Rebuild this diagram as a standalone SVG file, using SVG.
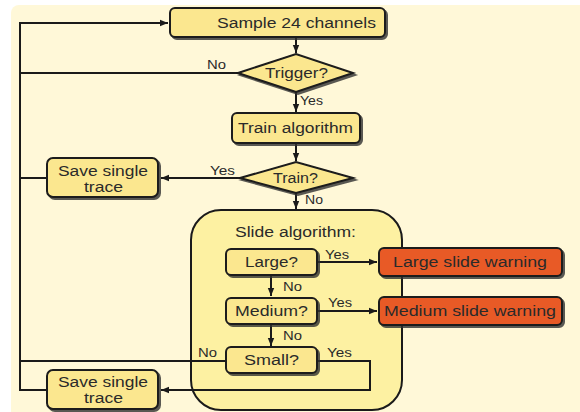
<svg xmlns="http://www.w3.org/2000/svg" width="580" height="412" viewBox="0 0 580 412">
<defs>
<style>
.box{fill:#fbe78f;stroke:#1a1a1a;stroke-width:2;filter:url(#sh)}
.warn{fill:#e85a26;stroke:#1a1a1a;stroke-width:2;filter:url(#sh)}
.cont{fill:#fdf1a2;stroke:#1a1a1a;stroke-width:2}
.t{font-family:"Liberation Sans",Arial,sans-serif;font-size:14px;fill:#2a2a2a}
.l{font-family:"Liberation Sans",Arial,sans-serif;font-size:12.5px;fill:#2a2a2a}
.c{fill:none;stroke:#1a1a1a;stroke-width:2}
</style>
<filter id="sh" x="-10%" y="-20%" width="130%" height="150%">
<feDropShadow dx="2" dy="2" stdDeviation="0.6" flood-color="#333" flood-opacity="0.8"/>
</filter>
<marker id="ar" viewBox="0 0 10 10" refX="10" refY="5" markerWidth="4" markerHeight="4" orient="auto" markerUnits="strokeWidth">
<path d="M0,1 L10,5 L0,9 z" fill="#1a1a1a"/>
</marker>
</defs>
<rect x="11" y="5" width="600" height="430" rx="8" fill="#fff8d8"/>
<g id="slide-container">
<rect class="cont" x="191" y="210" width="211" height="200" rx="30"/>
<text class="t" x="235" y="237" textLength="121" lengthAdjust="spacingAndGlyphs">Slide algorithm:</text>
</g>
<g id="connectors">
<path class="c" d="M296,37 V53" marker-end="url(#ar)"/>
<path class="c" d="M296,92 V112" marker-end="url(#ar)"/>
<path class="c" d="M296,143 V161" marker-end="url(#ar)"/>
<path class="c" d="M296,193 V209" marker-end="url(#ar)"/>
<path class="c" d="M238,73 H20 V23 H168" marker-end="url(#ar)"/>
<path class="c" d="M240,178 H161" marker-end="url(#ar)"/>
<path class="c" d="M47,178 H20"/>
<path class="c" d="M20,73 V390 H47"/>
<path class="c" d="M317,262 H377" marker-end="url(#ar)"/>
<path class="c" d="M317,311 H377" marker-end="url(#ar)"/>
<path class="c" d="M271,275 V296" marker-end="url(#ar)"/>
<path class="c" d="M271,324 V346" marker-end="url(#ar)"/>
<path class="c" d="M226,361 H20"/>
<path class="c" d="M317,361 H370 V390 H161" marker-end="url(#ar)"/>
<text class="l" x="207" y="69" textLength="19" lengthAdjust="spacingAndGlyphs">No</text>
<text class="l" x="300" y="105" textLength="23" lengthAdjust="spacingAndGlyphs">Yes</text>
<text class="l" x="210" y="175" textLength="25" lengthAdjust="spacingAndGlyphs">Yes</text>
<text class="l" x="305" y="204" textLength="18" lengthAdjust="spacingAndGlyphs">No</text>
<text class="l" x="325" y="259" textLength="24" lengthAdjust="spacingAndGlyphs">Yes</text>
<text class="l" x="283" y="291" textLength="19" lengthAdjust="spacingAndGlyphs">No</text>
<text class="l" x="328" y="307" textLength="24" lengthAdjust="spacingAndGlyphs">Yes</text>
<text class="l" x="283" y="340" textLength="19" lengthAdjust="spacingAndGlyphs">No</text>
<text class="l" x="198" y="357" textLength="19" lengthAdjust="spacingAndGlyphs">No</text>
<text class="l" x="327" y="357" textLength="25" lengthAdjust="spacingAndGlyphs">Yes</text>
</g>
<g id="sample">
<rect class="box" x="170" y="8" width="215" height="29" rx="5"/>
<text class="t" x="217" y="28" textLength="159" lengthAdjust="spacingAndGlyphs">Sample 24 channels</text>
</g>
<g id="trigger">
<polygon class="box" points="238,73 296,54 353,73 296,92"/>
<text class="t" x="265" y="78" textLength="63" lengthAdjust="spacingAndGlyphs">Trigger?</text>
</g>
<g id="train-algorithm">
<rect class="box" x="232" y="113" width="128" height="30" rx="5"/>
<text class="t" x="238" y="133" textLength="115" lengthAdjust="spacingAndGlyphs">Train algorithm</text>
</g>
<g id="train">
<polygon class="box" points="240,178 296,162 353,178 296,193"/>
<text class="t" x="273" y="183" textLength="45" lengthAdjust="spacingAndGlyphs">Train?</text>
</g>
<g id="save1">
<rect class="box" x="47" y="158" width="111" height="39" rx="6"/>
<text class="t" x="58" y="176" textLength="90" lengthAdjust="spacingAndGlyphs">Save single</text>
<text class="t" x="84" y="192" textLength="39" lengthAdjust="spacingAndGlyphs">trace</text>
</g>
<g id="large">
<rect class="box" x="226" y="249" width="91" height="26" rx="5"/>
<text class="t" x="245" y="267" textLength="53" lengthAdjust="spacingAndGlyphs">Large?</text>
</g>
<g id="large-warning">
<rect class="warn" x="379" y="248" width="183" height="28" rx="5"/>
<text class="t" x="393" y="267" textLength="154" lengthAdjust="spacingAndGlyphs">Large slide warning</text>
</g>
<g id="medium">
<rect class="box" x="226" y="298" width="91" height="26" rx="5"/>
<text class="t" x="235" y="316" textLength="73" lengthAdjust="spacingAndGlyphs">Medium?</text>
</g>
<g id="medium-warning">
<rect class="warn" x="379" y="297" width="183" height="28" rx="5"/>
<text class="t" x="384" y="316" textLength="172" lengthAdjust="spacingAndGlyphs">Medium slide warning</text>
</g>
<g id="small">
<rect class="box" x="226" y="347" width="91" height="26" rx="5"/>
<text class="t" x="244" y="365" textLength="55" lengthAdjust="spacingAndGlyphs">Small?</text>
</g>
<g id="save2">
<rect class="box" x="47" y="370" width="111" height="39" rx="6"/>
<text class="t" x="58" y="387" textLength="90" lengthAdjust="spacingAndGlyphs">Save single</text>
<text class="t" x="84" y="403" textLength="39" lengthAdjust="spacingAndGlyphs">trace</text>
</g>
</svg>
